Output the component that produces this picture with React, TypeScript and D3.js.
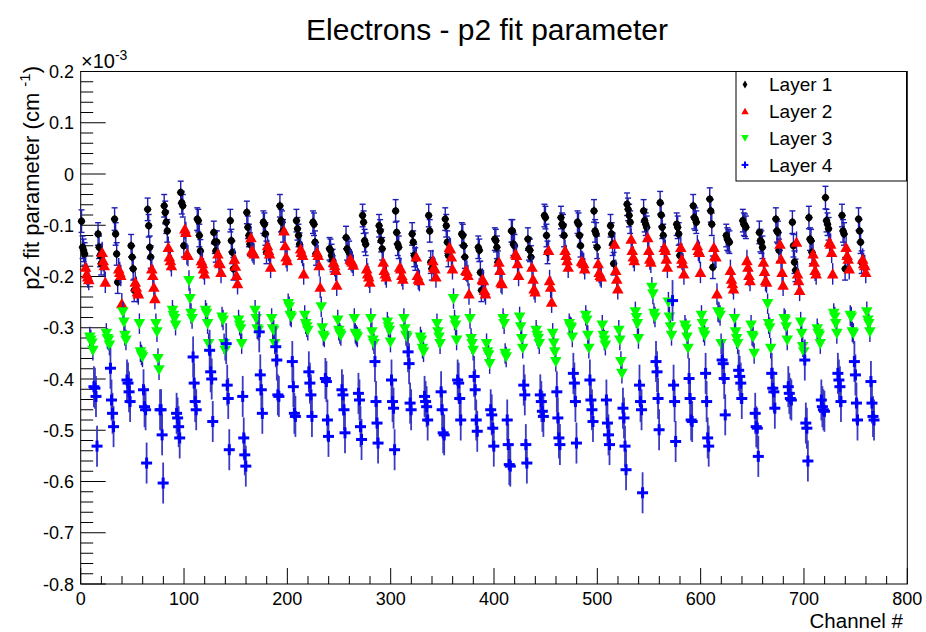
import React from 'react';
import * as d3 from 'd3';

const W = 926;
const H = 632;

const title = 'Electrons - p2 fit parameter';
const xTitle = 'Channel #';
const yTitleMain = 'p2 fit parameter (cm ';
const yTitleSup = '-1';
const layerNames = ['Layer 1', 'Layer 2', 'Layer 3', 'Layer 4'];
const xTicks = [0, 100, 200, 300, 400, 500, 600, 700, 800];
const yTicks = [0.2, 0.1, 0, -0.1, -0.2, -0.3, -0.4, -0.5, -0.6, -0.7, -0.8];

// values in units of 1e-3 cm^-1; 48 groups of 4 channels per layer
const layer1 = [
  -0.092, -0.143, -0.149, -0.156, -0.117, -0.143, -0.159, -0.175, -0.088, -0.117, -0.156, -0.211,
  -0.140, -0.162, -0.185, -0.227, -0.069, -0.101, -0.143, -0.162, -0.062, -0.075, -0.094, -0.111,
  -0.036, -0.056, -0.062, -0.140, -0.088, -0.091, -0.120, -0.150, -0.114, -0.133, -0.150, -0.133,
  -0.091, -0.130, -0.153, -0.185, -0.075, -0.104, -0.120, -0.137, -0.094, -0.098, -0.117, -0.153,
  -0.062, -0.091, -0.094, -0.111, -0.091, -0.107, -0.120, -0.137, -0.094, -0.098, -0.133, -0.156,
  -0.146, -0.149, -0.159, -0.169, -0.124, -0.146, -0.149, -0.153, -0.081, -0.094, -0.130, -0.137,
  -0.101, -0.111, -0.130, -0.146, -0.072, -0.114, -0.137, -0.143, -0.117, -0.133, -0.159, -0.166,
  -0.081, -0.111, -0.172, -0.185, -0.088, -0.101, -0.133, -0.159, -0.117, -0.120, -0.140, -0.162,
  -0.143, -0.149, -0.192, -0.227, -0.127, -0.130, -0.143, -0.172, -0.111, -0.111, -0.137, -0.140,
  -0.127, -0.146, -0.149, -0.162, -0.081, -0.085, -0.120, -0.153, -0.085, -0.098, -0.101, -0.120,
  -0.094, -0.098, -0.120, -0.140, -0.072, -0.111, -0.117, -0.143, -0.101, -0.117, -0.137, -0.175,
  -0.059, -0.069, -0.081, -0.094, -0.072, -0.091, -0.098, -0.104, -0.056, -0.080, -0.104, -0.120,
  -0.098, -0.104, -0.117, -0.159, -0.062, -0.085, -0.088, -0.094, -0.049, -0.072, -0.098, -0.182,
  -0.120, -0.127, -0.130, -0.133, -0.091, -0.098, -0.100, -0.104, -0.114, -0.130, -0.133, -0.143,
  -0.088, -0.111, -0.114, -0.149, -0.094, -0.140, -0.172, -0.188, -0.085, -0.127, -0.130, -0.153,
  -0.046, -0.091, -0.098, -0.107, -0.081, -0.111, -0.117, -0.185, -0.088, -0.111, -0.133, -0.172,
];
const layer2 = [
  -0.182, -0.195, -0.201, -0.206, -0.153, -0.169, -0.179, -0.211, -0.185, -0.192, -0.198, -0.253,
  -0.211, -0.221, -0.230, -0.234, -0.185, -0.198, -0.221, -0.243, -0.143, -0.162, -0.169, -0.179,
  -0.107, -0.114, -0.156, -0.159, -0.169, -0.175, -0.185, -0.195, -0.156, -0.172, -0.175, -0.192,
  -0.166, -0.180, -0.198, -0.214, -0.124, -0.149, -0.153, -0.156, -0.140, -0.149, -0.156, -0.182,
  -0.111, -0.140, -0.162, -0.169, -0.146, -0.153, -0.159, -0.195, -0.153, -0.159, -0.179, -0.221,
  -0.172, -0.179, -0.188, -0.217, -0.166, -0.169, -0.172, -0.178, -0.185, -0.195, -0.201, -0.211,
  -0.172, -0.188, -0.195, -0.201, -0.182, -0.185, -0.198, -0.205, -0.162, -0.198, -0.205, -0.208,
  -0.169, -0.182, -0.185, -0.201, -0.143, -0.146, -0.162, -0.185, -0.188, -0.190, -0.198, -0.234,
  -0.205, -0.208, -0.227, -0.234, -0.172, -0.188, -0.211, -0.214, -0.156, -0.159, -0.175, -0.198,
  -0.182, -0.205, -0.224, -0.230, -0.149, -0.208, -0.221, -0.250, -0.149, -0.159, -0.169, -0.182,
  -0.170, -0.172, -0.175, -0.185, -0.175, -0.192, -0.198, -0.201, -0.137, -0.188, -0.205, -0.224,
  -0.127, -0.149, -0.162, -0.169, -0.124, -0.149, -0.166, -0.172, -0.143, -0.149, -0.166, -0.182,
  -0.143, -0.166, -0.175, -0.195, -0.140, -0.149, -0.153, -0.192, -0.143, -0.160, -0.162, -0.234,
  -0.188, -0.205, -0.214, -0.224, -0.169, -0.182, -0.198, -0.208, -0.172, -0.190, -0.208, -0.211,
  -0.137, -0.166, -0.192, -0.217, -0.133, -0.195, -0.208, -0.227, -0.156, -0.172, -0.188, -0.195,
  -0.133, -0.137, -0.153, -0.195, -0.143, -0.159, -0.166, -0.185, -0.166, -0.175, -0.179, -0.192,
];
const layer3 = [
  -0.318, -0.324, -0.330, -0.344, -0.311, -0.321, -0.324, -0.334, -0.269, -0.289, -0.315, -0.324,
  -0.292, -0.347, -0.353, -0.357, -0.292, -0.308, -0.360, -0.382, -0.266, -0.276, -0.282, -0.295,
  -0.208, -0.243, -0.272, -0.282, -0.266, -0.272, -0.292, -0.331, -0.279, -0.285, -0.331, -0.344,
  -0.285, -0.295, -0.302, -0.331, -0.266, -0.282, -0.302, -0.305, -0.282, -0.302, -0.305, -0.331,
  -0.253, -0.259, -0.276, -0.279, -0.276, -0.292, -0.298, -0.305, -0.259, -0.300, -0.315, -0.318,
  -0.285, -0.305, -0.311, -0.315, -0.282, -0.311, -0.315, -0.318, -0.282, -0.308, -0.324, -0.331,
  -0.289, -0.298, -0.305, -0.328, -0.282, -0.302, -0.315, -0.318, -0.318, -0.324, -0.340, -0.347,
  -0.292, -0.308, -0.318, -0.331, -0.243, -0.285, -0.295, -0.324, -0.282, -0.321, -0.331, -0.344,
  -0.331, -0.347, -0.353, -0.370, -0.282, -0.292, -0.350, -0.357, -0.279, -0.298, -0.321, -0.340,
  -0.305, -0.315, -0.321, -0.331, -0.311, -0.330, -0.347, -0.366, -0.292, -0.298, -0.300, -0.318,
  -0.276, -0.285, -0.315, -0.340, -0.295, -0.315, -0.324, -0.334, -0.305, -0.324, -0.366, -0.389,
  -0.269, -0.280, -0.292, -0.321, -0.221, -0.234, -0.272, -0.279, -0.250, -0.279, -0.298, -0.315,
  -0.295, -0.302, -0.318, -0.340, -0.276, -0.292, -0.308, -0.315, -0.269, -0.270, -0.276, -0.331,
  -0.282, -0.308, -0.321, -0.331, -0.295, -0.315, -0.318, -0.350, -0.253, -0.292, -0.300, -0.340,
  -0.282, -0.285, -0.298, -0.324, -0.289, -0.311, -0.337, -0.347, -0.302, -0.311, -0.315, -0.331,
  -0.272, -0.279, -0.292, -0.311, -0.276, -0.279, -0.308, -0.311, -0.269, -0.285, -0.292, -0.308,
];
const layer4 = [
  -0.415, -0.418, -0.434, -0.531, -0.379, -0.441, -0.467, -0.493, -0.402, -0.408, -0.425, -0.444,
  -0.421, -0.454, -0.460, -0.564, -0.460, -0.460, -0.509, -0.603, -0.467, -0.476, -0.493, -0.515,
  -0.357, -0.408, -0.444, -0.460, -0.344, -0.386, -0.400, -0.483, -0.331, -0.412, -0.438, -0.538,
  -0.434, -0.515, -0.548, -0.570, -0.308, -0.392, -0.421, -0.467, -0.337, -0.363, -0.431, -0.434,
  -0.366, -0.415, -0.467, -0.473, -0.386, -0.408, -0.431, -0.473, -0.399, -0.405, -0.480, -0.512,
  -0.421, -0.431, -0.460, -0.505, -0.428, -0.441, -0.493, -0.518, -0.366, -0.444, -0.486, -0.525,
  -0.402, -0.444, -0.457, -0.538, -0.347, -0.370, -0.447, -0.460, -0.434, -0.444, -0.454, -0.480,
  -0.425, -0.460, -0.505, -0.509, -0.402, -0.408, -0.438, -0.480, -0.395, -0.421, -0.480, -0.502,
  -0.460, -0.470, -0.496, -0.531, -0.480, -0.528, -0.567, -0.570, -0.412, -0.431, -0.528, -0.564,
  -0.431, -0.444, -0.463, -0.473, -0.425, -0.476, -0.515, -0.528, -0.389, -0.408, -0.444, -0.525,
  -0.402, -0.441, -0.460, -0.483, -0.441, -0.486, -0.509, -0.528, -0.457, -0.476, -0.531, -0.577,
  -0.412, -0.444, -0.460, -0.622, -0.366, -0.386, -0.438, -0.499, -0.247, -0.412, -0.444, -0.522,
  -0.399, -0.438, -0.480, -0.483, -0.389, -0.444, -0.515, -0.531, -0.363, -0.370, -0.399, -0.470,
  -0.383, -0.395, -0.408, -0.438, -0.467, -0.493, -0.496, -0.551, -0.389, -0.418, -0.425, -0.457,
  -0.415, -0.428, -0.438, -0.441, -0.363, -0.486, -0.496, -0.560, -0.441, -0.454, -0.460, -0.463,
  -0.389, -0.402, -0.415, -0.444, -0.366, -0.392, -0.447, -0.480, -0.405, -0.447, -0.473, -0.480,
];
// typical uncertainty per layer (1e-3 cm^-1)
const layerErrors = [0.022, 0.021, 0.02, 0.04];
const layerValues = [layer1, layer2, layer3, layer4];

const FONT = '"Liberation Sans", Arial, Helvetica, sans-serif';

const frame = { left: 80.7, right: 907.3, top: 71.5, bottom: 584 };

const x = d3.scaleLinear().domain([0, 800]).range([frame.left, frame.right]);
const y = d3.scaleLinear().domain([-0.8, 0.2]).range([frame.bottom, frame.top]);

// channel number of the i-th readout of a layer: blocks of 16 channels, 4 per layer
const channelOf = (layer: number, i: number) => 16 * Math.floor(i / 4) + 4 * layer + (i % 4) + 0.8;

const ERR_COLORS = ['#1e1eb4', '#1e1eb4', '#1e1eb4', '#3a3ac4'];
const ERR_WIDTHS = [1.4, 1.4, 1.4, 1.8];

function Marker({ layer, cx, cy, legend }: { layer: number; cx: number; cy: number; legend?: boolean }) {
  const s = legend ? 0.65 : 1;
  if (layer === 0) {
    const hw = legend ? 2.4 : 4;
    const hh = legend ? 4 : 4.6;
    return (
      <g transform={`translate(${cx},${cy})`}>
        <path d={`M0,${-hh}L${hw},0L0,${hh}L${-hw},0Z`} fill="#000" />
        {!legend && <circle r={3.4} fill="#000" />}
      </g>
    );
  }
  if (layer === 1) {
    return <path transform={`translate(${cx},${cy}) scale(${s})`} d="M0,-5.6L5.8,4.6L-5.8,4.6Z" fill="#ff0000" />;
  }
  if (layer === 2) {
    return <path transform={`translate(${cx},${cy}) scale(${s})`} d="M0,5.6L5.8,-4.6L-5.8,-4.6Z" fill="#00ff00" />;
  }
  const a = legend ? 3.4 : 5.5;
  return (
    <g transform={`translate(${cx},${cy})`} stroke="#0000ff" strokeWidth={legend ? 2 : 3}>
      <line x1={-a} x2={a} y1={0} y2={0} />
      <line x1={0} x2={0} y1={-a} y2={a} />
    </g>
  );
}

export default function App() {
  const xMinor = d3.range(0, 801, 20).filter((v) => v % 100 !== 0);
  const yMinor = d3.range(-80, 21, 2).map((v) => v / 100).filter((v) => Math.round(v * 100) % 10 !== 0);

  return (
    <svg
      width={W}
      height={H}
      viewBox={`0 0 ${W} ${H}`}
      style={{ position: 'absolute', left: 0, top: 0, background: '#fff' }}
      fontFamily={FONT}
    >
      <rect x={0} y={0} width={W} height={H} fill="#fff" />
      {/* title */}
      <text x={487} y={40} textAnchor="middle" fontSize={30} fill="#000">{title}</text>

      {/* frame */}
      <rect
        x={frame.left}
        y={frame.top}
        width={frame.right - frame.left}
        height={frame.bottom - frame.top}
        fill="none"
        stroke="#000"
        strokeWidth={1}
      />

      {/* x axis ticks */}
      {xTicks.map((t) => (
        <g key={`xt${t}`}>
          <line x1={x(t)} x2={x(t)} y1={frame.bottom} y2={frame.bottom - 16} stroke="#000" />
          <text x={x(t)} y={605} textAnchor="middle" fontSize={18}>{t}</text>
        </g>
      ))}
      {xMinor.map((t) => (
        <line key={`xm${t}`} x1={x(t)} x2={x(t)} y1={frame.bottom} y2={frame.bottom - 8} stroke="#000" />
      ))}
      <text x={903} y={628} textAnchor="end" fontSize={20.5}>{xTitle}</text>

      {/* y axis ticks */}
      {yTicks.map((t) => (
        <g key={`yt${t}`}>
          <line x1={frame.left} x2={frame.left + 25} y1={y(t)} y2={y(t)} stroke="#000" />
          <text x={74} y={y(t) + 6.5} textAnchor="end" fontSize={18}>{t === 0 ? '0' : d3.format('.1f')(t).replace('−', '-')}</text>
        </g>
      ))}
      {yMinor.map((t) => (
        <line key={`ym${t}`} x1={frame.left} x2={frame.left + 12.5} y1={y(t)} y2={y(t)} stroke="#000" />
      ))}
      <text x={81} y={68} fontSize={20}>
        ×10<tspan dy={-8} fontSize={14}>-3</tspan>
      </text>

      {/* y title */}
      <text transform="translate(39,66) rotate(-90)" textAnchor="end" fontSize={22}>
        {yTitleMain}
        <tspan dy={-9} fontSize={15}>{yTitleSup}</tspan>
        <tspan dy={9}>)</tspan>
      </text>

      {/* data */}
      {layerValues.map((vals, L) => (
        <g key={`layer${L}`}>
          {vals.map((v, i) => {
            const cx = x(channelOf(L, i));
            const e = layerErrors[L];
            const y1 = y(v + e);
            const y2 = y(v - e);
            return (
              <g key={`e${i}`} stroke={ERR_COLORS[L]} strokeWidth={ERR_WIDTHS[L]}>
                <line x1={cx} x2={cx} y1={y1} y2={y2} />
                {L === 0 && (
                  <>
                    <line x1={cx - 3} x2={cx + 3} y1={y1} y2={y1} />
                    <line x1={cx - 3} x2={cx + 3} y1={y2} y2={y2} />
                  </>
                )}
              </g>
            );
          })}
          {vals.map((v, i) => (
            <Marker key={`m${i}`} layer={L} cx={x(channelOf(L, i))} cy={y(v)} />
          ))}
        </g>
      ))}

      {/* legend */}
      <rect x={736} y={71.5} width={170.5} height={109.5} fill="#fff" stroke="#000" strokeWidth={1} />
      {layerNames.map((name, L) => {
        const cy = 84.5 + L * 26.8;
        return (
          <g key={`lg${L}`}>
            <Marker layer={L} cx={745} cy={cy} legend />
            <text x={769} y={cy + 6.8} fontSize={19}>{name}</text>
          </g>
        );
      })}
    </svg>
  );
}
